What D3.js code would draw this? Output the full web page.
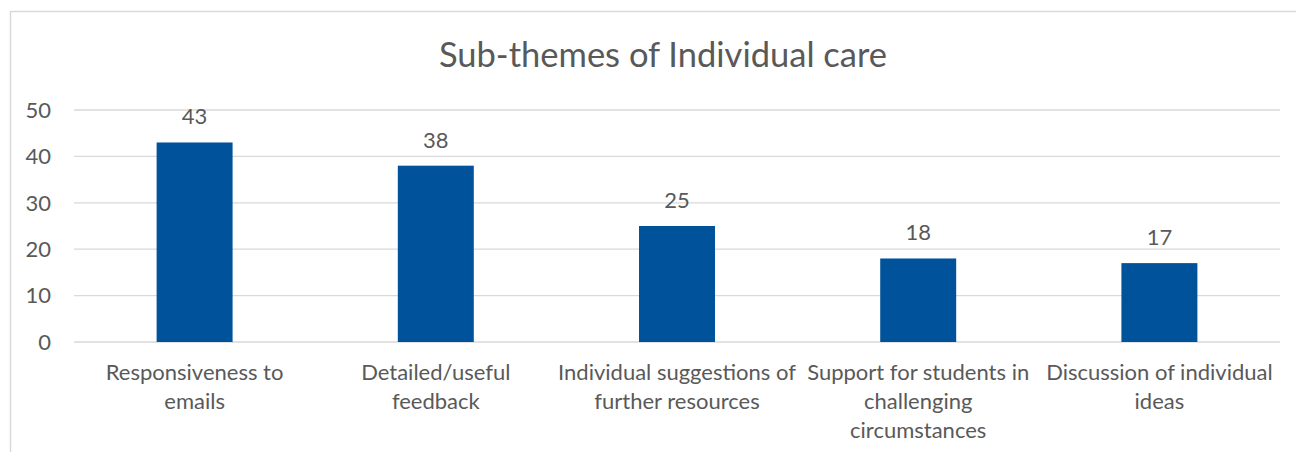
<!DOCTYPE html>
<html>
<head>
<meta charset="utf-8">
<script src="https://cdn.jsdelivr.net/npm/d3@7"></script>
<style>
  body { margin: 0; background: #fff; }
  text { font-family: Lato, "Open Sans", sans-serif; fill: #595959; }
</style>
</head>
<body>
<div id="container"></div>
<script>
/* DATA */
const categories = ["Responsiveness to emails", "Detailed/useful feedback", "Individual suggestions of further resources",
  "Support for students in challenging circumstances", "Discussion of individual ideas"];
// wrapped the way the original shows them
const categoryLines = [
  ["Responsiveness to", "emails"],
  ["Detailed/useful", "feedback"],
  ["Individual suggestions of", "further resources"],
  ["Support for students in", "challenging", "circumstances"],
  ["Discussion of individual", "ideas"]
];
const counts = [43, 38, 25, 18, 17];
const yTicks = [0, 10, 20, 30, 40, 50];

/* CONSTANTS */
const width = 1296;
const height = 452;
const plotLeft = 74, plotRight = 1280, plotTop = 110, plotBottom = 342;

const svg = d3.select("#container").append("svg")
  .attr("width", width)
  .attr("height", height)

// chart frame (only left and top show in the crop)
svg.append("rect")
  .attr("x", 10.5).attr("y", 11.5)
  .attr("width", 1400).attr("height", 600)
  .attr("fill", "none")
  .attr("stroke", "#d9d9d9")
  .attr("stroke-width", 1.5)

/* SCALES */
const xScale = d3.scaleBand()
  .domain(categories)
  .range([plotLeft, plotRight])
  .paddingInner(0.685)
  .paddingOuter(0.3425)

const yScale = d3.scaleLinear()
  .domain([0, 50])
  .range([plotBottom, plotTop])

/* GRID */
svg.selectAll("line.grid")
  .data(yTicks)
  .join("line")
  .attr("class", "grid")
  .attr("x1", plotLeft).attr("x2", plotRight)
  .attr("y1", d => yScale(d)).attr("y2", d => yScale(d))
  .attr("stroke", "#d9d9d9")
  .attr("stroke-width", 1.3)

svg.selectAll("text.ytick")
  .data(yTicks)
  .join("text")
  .attr("class", "ytick")
  .attr("x", 51)
  .attr("y", d => yScale(d))
  .attr("dy", "0.35em")
  .attr("text-anchor", "end")
  .style("font-size", "22px")
  .text(d => d)

/* BARS */
svg.selectAll("rect.bar")
  .data(counts)
  .join("rect")
  .attr("class", "bar")
  .attr("x", (d, i) => xScale(categories[i]))
  .attr("y", d => yScale(d))
  .attr("width", xScale.bandwidth())
  .attr("height", d => plotBottom - yScale(d))
  .attr("fill", "#00529b")

svg.selectAll("text.value")
  .data(counts)
  .join("text")
  .attr("class", "value")
  .attr("x", (d, i) => xScale(categories[i]) + xScale.bandwidth() / 2)
  .attr("y", d => yScale(d) - 18)
  .attr("text-anchor", "middle")
  .style("font-size", "22px")
  .text(d => d)

/* CATEGORY LABELS */
const labels = svg.selectAll("text.cat")
  .data(categoryLines)
  .join("text")
  .attr("class", "cat")
  .attr("text-anchor", "middle")
  .style("font-size", "22px")

labels.selectAll("tspan")
  .data((d, i) => d.map(line => ({ line, i })))
  .join("tspan")
  .attr("x", d => xScale(categories[d.i]) + xScale.bandwidth() / 2)
  .attr("y", (d, j) => 380 + j * 29)
  .text(d => d.line)

/* TITLE */
svg.append("text")
  .attr("x", 663)
  .attr("y", 67)
  .attr("text-anchor", "middle")
  .style("font-size", "34.5px")
  .text("Sub-themes of Individual care")
</script>
</body>
</html>
